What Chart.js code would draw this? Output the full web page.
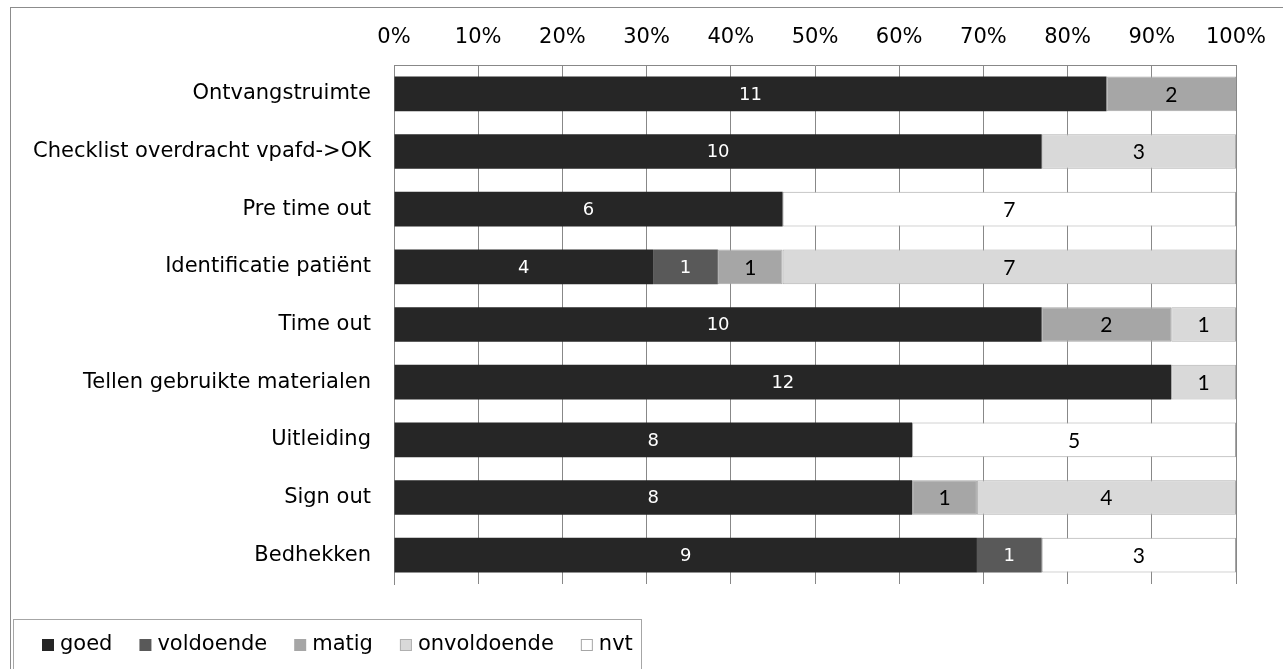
<!DOCTYPE html>
<html>
<head>
<meta charset="utf-8">
<script src="https://cdn.jsdelivr.net/npm/chart.js@4.4.1/dist/chart.umd.min.js"></script>
<style>
  html, body { margin: 0; padding: 0; background: #fff; }
  #wrap { position: relative; width: 1283px; height: 669px; }
</style>
</head>
<body>
<div id="wrap"><canvas id="c" width="1283" height="669"></canvas></div>
<script>
// Onderdelen van de checklist
const categories = [
  'Ontvangstruimte',
  'Checklist overdracht vpafd->OK',
  'Pre time out',
  'Identificatie patiënt',
  'Time out',
  'Tellen gebruikte materialen',
  'Uitleiding',
  'Sign out',
  'Bedhekken'
];

// Aantallen per beoordeling
const goed        = [11, 10, 6, 4, 10, 12, 8, 8, 9];
const voldoende   = [0, 0, 0, 1, 0, 0, 0, 0, 1];
const matig       = [2, 0, 0, 1, 2, 0, 0, 1, 0];
const onvoldoende = [0, 3, 0, 7, 1, 1, 0, 4, 0];
const nvt         = [0, 0, 7, 0, 0, 0, 5, 0, 3];

const seriesNames = ['goed', 'voldoende', 'matig', 'onvoldoende', 'nvt'];
const seriesCounts = [goed, voldoende, matig, onvoldoende, nvt];
const fills   = ['#262626', '#595959', '#a6a6a6', '#d9d9d9', '#ffffff'];
const borders = ['#262626', '#595959', '#a6a6a6', '#b0b0b0', '#a6a6a6'];
const labelColors = ['#ffffff', '#ffffff', '#000000', '#000000', '#000000'];

const totals = categories.map((_, i) => seriesCounts.reduce((s, arr) => s + arr[i], 0));

const FONT = '"DejaVu Sans", Verdana, sans-serif';
const LABEL_FONT_LIGHT = '18px "DejaVu Sans", Verdana, sans-serif';
const LABEL_FONT_DARK = '21px Lato, "Open Sans", sans-serif';

const datasets = seriesNames.map((name, k) => ({
  label: name,
  counts: seriesCounts[k],
  data: seriesCounts[k].map((v, i) => v / totals[i] * 100),
  backgroundColor: fills[k],
  borderColor: borders[k],
  borderWidth: k >= 2 ? 1 : 0,
  borderSkipped: false,
  barPercentage: 0.6,
  categoryPercentage: 1.0,
  labelColor: labelColors[k]
}));

// Legend row inside the bottom box; returns the right end of the last item
function drawLegend(ctx, datasets) {
  ctx.font = '21px ' + FONT;
  ctx.textBaseline = 'middle';
  ctx.textAlign = 'left';
  let x = 42;
  let end = x;
  const y = 645;
  datasets.forEach(ds => {
    ctx.fillStyle = ds.backgroundColor;
    ctx.fillRect(x, y - 6, 12, 12);
    if (ds.borderWidth && ds.label !== 'matig') {
      ctx.strokeStyle = ds.borderColor;
      ctx.lineWidth = 1;
      ctx.strokeRect(x + 0.5, y - 5.5, 11, 11);
    }
    ctx.fillStyle = '#000';
    ctx.fillText(ds.label, x + 18, y);
    end = x + 18 + ctx.measureText(ds.label).width;
    x = end + 27;
  });
  return end;
}

// Frame around the whole chart, plus the legend and its box
const framePlugin = {
  id: 'frame',
  afterDraw(chart) {
    const ctx = chart.ctx;
    ctx.save();
    ctx.strokeStyle = '#8c8c8c';
    ctx.lineWidth = 1;
    ctx.strokeRect(10.5, 7.5, 1300, 700);
    const end = drawLegend(ctx, chart.data.datasets);
    ctx.strokeStyle = '#a6a6a6';
    ctx.strokeRect(13.5, 619.5, Math.round(end + 8) - 13, 100);
    ctx.restore();
  }
};

// Count labels centred in each segment
const valueLabels = {
  id: 'valueLabels',
  afterDatasetsDraw(chart) {
    const ctx = chart.ctx;
    ctx.save();
    ctx.textAlign = 'center';
    ctx.textBaseline = 'middle';
    chart.data.datasets.forEach((ds, k) => {
      const meta = chart.getDatasetMeta(k);
      meta.data.forEach((bar, i) => {
        const v = ds.counts[i];
        if (!v) return;
        const { x, y, base } = bar.getProps(['x', 'y', 'base'], true);
        const light = ds.labelColor === '#ffffff';
        ctx.font = light ? LABEL_FONT_LIGHT : LABEL_FONT_DARK;
        ctx.fillStyle = ds.labelColor;
        ctx.fillText(String(v), (x + base) / 2, y + 1);
      });
    });
    ctx.restore();
  }
};

new Chart(document.getElementById('c'), {
  type: 'bar',
  data: { labels: categories, datasets },
  options: {
    indexAxis: 'y',
    responsive: false,
    animation: false,
    layout: { padding: { left: 0, top: 0, right: 47, bottom: 85 } },
    plugins: { legend: { display: false }, tooltip: { enabled: false } },
    scales: {
      x: {
        position: 'top',
        stacked: true,
        min: 0,
        max: 100,
        afterFit(scale) { scale.height = 65; },
        ticks: {
          stepSize: 10,
          padding: 15,
          color: '#000',
          font: { family: FONT, size: 21 },
          callback: v => v + '%'
        },
        grid: { color: '#888888', lineWidth: 1, drawTicks: false },
        border: { display: true, color: '#888888' }
      },
      y: {
        stacked: true,
        afterFit(scale) { scale.width = 394; },
        ticks: {
          padding: 23,
          color: '#000',
          font: { family: FONT, size: 21 }
        },
        grid: { display: false, drawTicks: false },
        border: { display: true, color: '#888888' }
      }
    }
  },
  plugins: [framePlugin, valueLabels]
});
</script>
</body>
</html>
